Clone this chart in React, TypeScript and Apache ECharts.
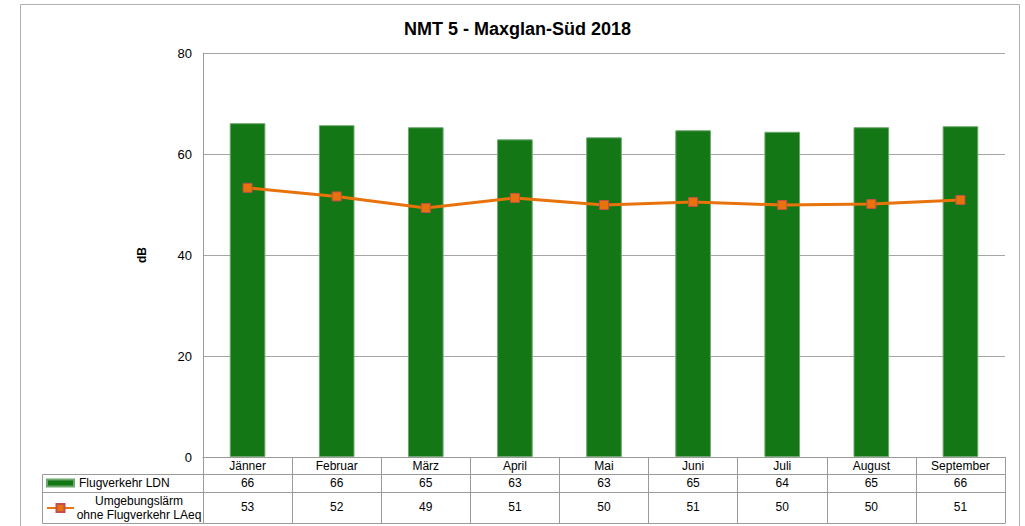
import React, { useEffect, useRef } from "react";
import * as echarts from "echarts";

const months = ["Jänner", "Februar", "März", "April", "Mai", "Juni", "Juli", "August", "September"];
const ldn = [66.1, 65.7, 65.3, 62.9, 63.3, 64.7, 64.4, 65.3, 65.5];
const laeq = [53.3, 51.6, 49.3, 51.3, 49.9, 50.5, 49.9, 50.1, 50.9];
const yTicks = [0, 20, 40, 60, 80];
const ldnName = "Flugverkehr LDN";
const laeqName = "Umgebungslärm ohne Flugverkehr LAeq";
const titleText = "NMT 5 - Maxglan-Süd 2018";

const FONT = "Liberation Sans, Arial, sans-serif";
const GRAY = "#9a9a9a";

export default function App() {
  const ref = useRef<HTMLDivElement>(null);
  useEffect(() => {
    if (!ref.current) return;
    const chart = echarts.init(ref.current, null, { renderer: "svg" });
    const gridLeft = 203, gridRight = 20, gridTop = 53, gridBottom = 69;
    const tableAxis = (idx: number, data: string[], offset: number, tickLen: number, margin: number, showLabel: boolean) => ({
      type: "category",
      gridIndex: 0,
      position: "bottom",
      offset,
      data,
      boundaryGap: true,
      axisLine: { show: true, lineStyle: { color: GRAY, width: 1 } },
      axisTick: { show: tickLen > 0, length: tickLen, interval: 0, lineStyle: { color: GRAY } },
      axisLabel: { show: showLabel, interval: 0, margin, color: "#000", fontSize: 12, fontFamily: FONT, verticalAlign: "top" },
      splitLine: { show: false },
      z: 10 + idx,
    });
    chart.setOption({
      animation: false,
      backgroundColor: "#fff",
      title: {
        text: titleText,
        left: 399,
        top: 15,
        textStyle: { fontSize: 18, fontWeight: "bold", color: "#000", fontFamily: FONT },
      },
      grid: { left: gridLeft, right: gridRight, top: gridTop, bottom: gridBottom, containLabel: false },
      legend: [
        {
          data: [ldnName],
          left: 46,
          top: 477,
          itemWidth: 27,
          itemHeight: 7,
          itemGap: 3,
          icon: "rect",
          padding: 0,
          selectedMode: false,
          textStyle: { fontSize: 12, color: "#000", fontFamily: FONT },
        },
        {
          data: [laeqName],
          left: 46,
          top: 495,
          itemWidth: 27,
          itemHeight: 10,
          padding: 0,
          selectedMode: false,
          formatter: () => "{a|Umgebungslärm}\n{a|ohne Flugverkehr LAeq}",
          textStyle: {
            fontSize: 12,
            color: "#000",
            fontFamily: FONT,
            rich: { a: { fontSize: 12, fontFamily: FONT, color: "#000", align: "center", width: 120, lineHeight: 14 } },
          },
        },
      ],
      xAxis: [
        tableAxis(0, months, 0, 17, 3, true),
        tableAxis(1, ldn.map((v) => String(Math.round(v))), 17, 18, 3, true),
        tableAxis(2, laeq.map((v) => String(Math.round(v))), 35, 31, 9, true),
        tableAxis(3, months.map(() => ""), 66, 0, 0, false),
      ],
      yAxis: {
        type: "value",
        min: 0,
        max: 80,
        interval: 20,
        name: "dB",
        nameLocation: "middle",
        nameRotate: 90,
        nameGap: 55,
        nameTextStyle: { fontSize: 12, fontWeight: "bold", color: "#000", fontFamily: FONT },
        axisLine: { show: true, lineStyle: { color: GRAY } },
        axisTick: { show: false },
        axisLabel: {
          color: "#000",
          fontSize: 13,
          fontFamily: FONT,
          margin: 11,
          formatter: (v: number) => (yTicks.includes(v) ? String(v) : ""),
        },
        splitLine: { show: true, lineStyle: { color: "#a6a6a6", width: 1 } },
      },
      series: [
        {
          name: ldnName,
          type: "bar",
          xAxisIndex: 0,
          data: ldn,
          barWidth: "40%",
          itemStyle: { color: "#137715", borderColor: "#6fa86f", borderWidth: 1 },
        },
        {
          name: laeqName,
          type: "line",
          xAxisIndex: 0,
          data: laeq,
          symbol: "rect",
          symbolSize: 9,
          lineStyle: { color: "#E8720C", width: 3 },
          itemStyle: { color: "#E8720C", borderColor: "#C0504D", borderWidth: 1 },
          z: 5,
        },
      ],
      graphic: [
        { type: "rect", shape: { x: 20.5, y: 4.5, width: 999, height: 600 }, style: { fill: "none", stroke: "#b0b0b0", lineWidth: 1 }, silent: true },
        { type: "line", shape: { x1: 42.5, y1: 474.5, x2: 203, y2: 474.5 }, style: { stroke: GRAY, lineWidth: 1 } },
        { type: "line", shape: { x1: 42.5, y1: 492.5, x2: 203, y2: 492.5 }, style: { stroke: GRAY, lineWidth: 1 } },
        { type: "line", shape: { x1: 42.5, y1: 523.5, x2: 203, y2: 523.5 }, style: { stroke: GRAY, lineWidth: 1 } },
        { type: "line", shape: { x1: 42.5, y1: 474.5, x2: 42.5, y2: 523.5 }, style: { stroke: GRAY, lineWidth: 1 } },
        { type: "line", shape: { x1: 203.5, y1: 457, x2: 203.5, y2: 523.5 }, style: { stroke: GRAY, lineWidth: 1 } },
      ],
    });
    return () => chart.dispose();
  }, []);
  return (
    <div
      ref={ref}
      style={{ position: "fixed", left: 0, top: 0, width: 1025, height: 526, background: "#fff" }}
    />
  );
}
